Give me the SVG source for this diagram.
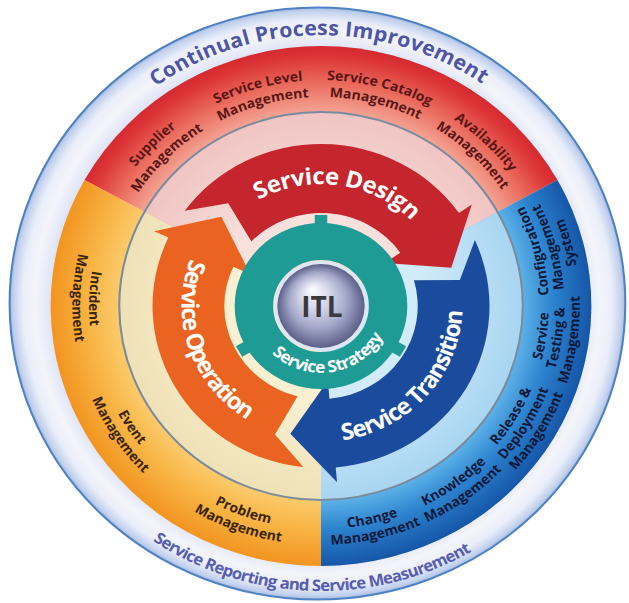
<svg xmlns="http://www.w3.org/2000/svg" width="629" height="603" viewBox="0 0 629 603">
<defs>
  <radialGradient id="gBand" gradientUnits="userSpaceOnUse" cx="-3.4" cy="-2.5" r="296.5">
    <stop offset="0.86" stop-color="#dde2f5"/>
    <stop offset="0.915" stop-color="#f4f5fb"/>
    <stop offset="0.955" stop-color="#eaeef9"/>
    <stop offset="0.985" stop-color="#c4d2ee"/>
    <stop offset="1" stop-color="#a2b9e0"/>
  </radialGradient>
  <radialGradient id="gRed" gradientUnits="userSpaceOnUse" cx="0" cy="0" r="260">
    <stop offset="0.745" stop-color="#f3a494"/>
    <stop offset="0.86" stop-color="#ea6a5c"/>
    <stop offset="0.96" stop-color="#dc3437"/>
    <stop offset="1" stop-color="#d42a30"/>
  </radialGradient>
  <radialGradient id="gOrange" gradientUnits="userSpaceOnUse" cx="0" cy="0" r="260">
    <stop offset="0.745" stop-color="#fccb6c"/>
    <stop offset="0.86" stop-color="#f8b444"/>
    <stop offset="1" stop-color="#f29420"/>
  </radialGradient>
  <radialGradient id="gBlue" gradientUnits="userSpaceOnUse" cx="0" cy="0" r="260">
    <stop offset="0.745" stop-color="#5db2e8"/>
    <stop offset="0.86" stop-color="#2c82ce"/>
    <stop offset="1" stop-color="#1556a8"/>
  </radialGradient>
  <radialGradient id="gPaleR" gradientUnits="userSpaceOnUse" cx="0" cy="0" r="194">
    <stop offset="0.5" stop-color="#f8e0dc"/>
    <stop offset="1" stop-color="#f0c4c2"/>
  </radialGradient>
  <radialGradient id="gPaleO" gradientUnits="userSpaceOnUse" cx="0" cy="0" r="194">
    <stop offset="0.5" stop-color="#f9f0d2"/>
    <stop offset="1" stop-color="#efe1b6"/>
  </radialGradient>
  <radialGradient id="gPaleB" gradientUnits="userSpaceOnUse" cx="0" cy="0" r="194">
    <stop offset="0.5" stop-color="#d2ebf9"/>
    <stop offset="1" stop-color="#a8d5f1"/>
  </radialGradient>
  <radialGradient id="gSphere" cx="0.5" cy="0.5" r="0.5" fx="0.4" fy="0.3">
    <stop offset="0" stop-color="#ffffff"/>
    <stop offset="0.3" stop-color="#d9dbec"/>
    <stop offset="0.65" stop-color="#a5a9ca"/>
    <stop offset="0.9" stop-color="#70749a"/>
    <stop offset="1" stop-color="#5c6086"/>
  </radialGradient>
  <path id="arrowShape" d="M -131.06,-95.22 A 162 162 0 0 1 132.70,-92.92 L 144.99,-101.52 L 125.28,-38.30 L 61.44,-43.02 L 76.18,-53.34 A 93 93 0 0 0 -66.90,-64.61 L -89.23,-102.64 Z"/>
  <rect id="tab" x="-6" y="-91" width="12" height="11"/>

  <path id="pTop" d="M -255.4,-90.5 A 271 271 0 0 1 253.8,-94.9"/>
  <path id="pBottom" d="M -271.1,88.1 A 285 285 0 0 0 264.2,106.8"/>

  <path id="pR1a" d="M -226,0 A 226 226 0 0 1 0,-226"/>
  <path id="pR1b" d="M -209,0 A 209 209 0 0 1 0,-209"/>
  <path id="pR2a" d="M -196.7,-111.3 A 226 226 0 0 1 111.3,-196.7"/>
  <path id="pR2b" d="M -181.9,-102.9 A 209 209 0 0 1 102.9,-181.9"/>
  <path id="pR3a" d="M -114.7,-194.7 A 226 226 0 0 1 194.7,-114.7"/>
  <path id="pR3b" d="M -106.1,-180.1 A 209 209 0 0 1 180.1,-106.1"/>
  <path id="pR4a" d="M -3.9,-226.0 A 226 226 0 0 1 226.0,-3.9"/>
  <path id="pR4b" d="M -3.6,-209.0 A 209 209 0 0 1 209.0,-3.6"/>

  <path id="pO1a" d="M -152.1,-163.1 A 223 223 0 0 0 -163.1,152.1"/>
  <path id="pO1b" d="M -163.0,-174.8 A 239 239 0 0 0 -174.8,163.0"/>
  <path id="pO2a" d="M -218.7,-43.7 A 223 223 0 0 0 -43.7,218.7"/>
  <path id="pO2b" d="M -234.4,-46.8 A 239 239 0 0 0 -46.8,234.4"/>
  <path id="pO3a" d="M -202.1,94.2 A 223 223 0 0 0 94.2,202.1"/>
  <path id="pO3b" d="M -216.6,101.0 A 239 239 0 0 0 101.0,216.6"/>

  <path id="pB1a" d="M -118.2,189.1 A 223 223 0 0 0 189.1,118.2"/>
  <path id="pB1b" d="M -126.6,202.7 A 239 239 0 0 0 202.7,126.6"/>
  <path id="pB2a" d="M -34.9,220.3 A 223 223 0 0 0 220.3,34.9"/>
  <path id="pB2b" d="M -37.4,236.1 A 239 239 0 0 0 236.1,37.4"/>
  <path id="pB3a" d="M 53.0,212.5 A 219 219 0 0 0 212.5,-53.0"/>
  <path id="pB3b" d="M 56.6,227.1 A 234 234 0 0 0 227.1,-56.6"/>
  <path id="pB3c" d="M 60.2,241.6 A 249 249 0 0 0 241.6,-60.2"/>
  <path id="pB4a" d="M 131.8,174.9 A 219 219 0 0 0 174.9,-131.8"/>
  <path id="pB4b" d="M 140.8,186.9 A 234 234 0 0 0 186.9,-140.8"/>
  <path id="pB4c" d="M 149.8,198.8 A 249 249 0 0 0 198.8,-149.8"/>
  <path id="pB5a" d="M 189.7,109.5 A 219 219 0 0 0 109.5,-189.7"/>
  <path id="pB5b" d="M 202.6,117 A 234 234 0 0 0 117,-202.6"/>
  <path id="pB5c" d="M 215.6,124.5 A 249 249 0 0 0 124.5,-215.6"/>

  <path id="pDesign" d="M -107.7,-57.3 A 122 122 0 0 1 119.3,-25.4"/>
  <path id="pOperation" d="M -83.8,-104.6 A 134 134 0 0 0 -3.0,134.0"/>
  <path id="pTransition" d="M -49.8,126.5 A 136 136 0 0 0 119.5,-64.9"/>
  <path id="pStrategy" d="M -63.3,21.8 A 67 67 0 0 0 67.0,1.2"/>
</defs>
<style>
  text { font-family: "Open Sans", "Liberation Sans", sans-serif; }
  .band { font-size: 20.5px; font-weight: 700; fill: #4e55a9; }
  .bandB { font-size: 16px; font-weight: 700; fill: #575db2; }
  .lbl { font-size: 13.5px; font-weight: 700; }
  .tr { fill: #5a1616; }
  .to { fill: #3a2506; }
  .tb { fill: #0b1a3a; }
  .big { font-size: 23px; font-weight: 700; fill: #ffffff; }
  .strat { font-size: 16.5px; font-weight: 700; fill: #ffffff; }
  .teal { fill: #1f9b95; }
</style>
<rect width="629" height="603" fill="#ffffff"/>
<g transform="translate(321,306) scale(1.04,1)">
  <g id="outer-band">
    <circle cx="-3.4" cy="-2.5" r="296" fill="url(#gBand)" stroke="#4f82c3" stroke-width="2"/>
    <text class="band"><textPath href="#pTop" startOffset="50%" text-anchor="middle" textLength="335" lengthAdjust="spacing">Continual Process Improvement</textPath></text>
    <text class="bandB"><textPath href="#pBottom" startOffset="50%" text-anchor="middle" textLength="324" lengthAdjust="spacing">Service Reporting and Service Measurement</textPath></text>
  </g>
  <g id="process-ring">
    <path id="sector-design" d="M0,0 L -227.4,-126.0 A 260 260 0 0 1 227.4,-126.0 Z" fill="url(#gRed)"/>
    <path id="sector-transition" d="M0,0 L 227.4,-126.0 A 260 260 0 0 1 0,260 Z" fill="url(#gBlue)"/>
    <path id="sector-operation" d="M0,0 L 0,260 A 260 260 0 0 1 -227.4,-126.0 Z" fill="url(#gOrange)"/>
  </g>
  <g id="inner-disk">
    <path d="M0,0 L -169.7,-94.0 A 194 194 0 0 1 169.7,-94.0 Z" fill="url(#gPaleR)"/>
    <path d="M0,0 L 169.7,-94.0 A 194 194 0 0 1 0,194 Z" fill="url(#gPaleB)"/>
    <path d="M0,0 L 0,194 A 194 194 0 0 1 -169.7,-94.0 Z" fill="url(#gPaleO)"/>
    <circle r="194" fill="none" stroke="#7b8b9e" stroke-width="2"/>
  </g>
  <g id="design-processes" class="lbl tr">
    <text><textPath href="#pR1a" startOffset="50%" text-anchor="middle">Supplier</textPath></text>
    <text><textPath href="#pR1b" startOffset="50%" text-anchor="middle">Management</textPath></text>
    <text><textPath href="#pR2a" startOffset="50%" text-anchor="middle">Service Level</textPath></text>
    <text><textPath href="#pR2b" startOffset="50%" text-anchor="middle">Management</textPath></text>
    <text><textPath href="#pR3a" startOffset="50%" text-anchor="middle">Service Catalog</textPath></text>
    <text><textPath href="#pR3b" startOffset="50%" text-anchor="middle">Management</textPath></text>
    <text><textPath href="#pR4a" startOffset="50%" text-anchor="middle">Availability</textPath></text>
    <text><textPath href="#pR4b" startOffset="50%" text-anchor="middle">Management</textPath></text>
  </g>
  <g id="operation-processes" class="lbl to">
    <text><textPath href="#pO1a" startOffset="50%" text-anchor="middle">Incident</textPath></text>
    <text><textPath href="#pO1b" startOffset="50%" text-anchor="middle">Management</textPath></text>
    <text><textPath href="#pO2a" startOffset="50%" text-anchor="middle">Event</textPath></text>
    <text><textPath href="#pO2b" startOffset="50%" text-anchor="middle">Management</textPath></text>
    <text><textPath href="#pO3a" startOffset="50%" text-anchor="middle">Problem</textPath></text>
    <text><textPath href="#pO3b" startOffset="50%" text-anchor="middle">Management</textPath></text>
  </g>
  <g id="transition-processes" class="lbl tb">
    <text><textPath href="#pB1a" startOffset="50%" text-anchor="middle">Change</textPath></text>
    <text><textPath href="#pB1b" startOffset="50%" text-anchor="middle">Management</textPath></text>
    <text><textPath href="#pB2a" startOffset="50%" text-anchor="middle">Knowledge</textPath></text>
    <text><textPath href="#pB2b" startOffset="50%" text-anchor="middle">Management</textPath></text>
    <text><textPath href="#pB3a" startOffset="50%" text-anchor="middle">Release &amp;</textPath></text>
    <text><textPath href="#pB3b" startOffset="50%" text-anchor="middle">Deployment</textPath></text>
    <text><textPath href="#pB3c" startOffset="50%" text-anchor="middle">Management</textPath></text>
    <text><textPath href="#pB4a" startOffset="50%" text-anchor="middle">Service</textPath></text>
    <text><textPath href="#pB4b" startOffset="50%" text-anchor="middle">Testing &amp;</textPath></text>
    <text><textPath href="#pB4c" startOffset="50%" text-anchor="middle">Management</textPath></text>
    <text><textPath href="#pB5a" startOffset="50%" text-anchor="middle">Configuration</textPath></text>
    <text><textPath href="#pB5b" startOffset="50%" text-anchor="middle">Management</textPath></text>
    <text><textPath href="#pB5c" startOffset="50%" text-anchor="middle">System</textPath></text>
  </g>
  <g id="arrows">
    <g id="service-design">
      <use href="#arrowShape" fill="#c5262d"/>
      <text class="big"><textPath href="#pDesign" startOffset="50%" text-anchor="middle" textLength="160" lengthAdjust="spacing">Service Design</textPath></text>
    </g>
    <g id="service-transition">
      <use href="#arrowShape" fill="#1b4b9d" transform="rotate(120)"/>
      <text class="big"><textPath href="#pTransition" startOffset="50%" text-anchor="middle" textLength="188" lengthAdjust="spacing">Service Transition</textPath></text>
    </g>
    <g id="service-operation">
      <use href="#arrowShape" fill="#ea6320" transform="rotate(240)"/>
      <text class="big"><textPath href="#pOperation" startOffset="50%" text-anchor="middle" textLength="184" lengthAdjust="spacing">Service Operation</textPath></text>
    </g>
  </g>
  <g id="service-strategy">
    <circle r="64.5" fill="none" stroke="#1f9b95" stroke-width="37"/>
    <use href="#tab" class="teal"/>
    <use href="#tab" class="teal" transform="rotate(120)"/>
    <use href="#tab" class="teal" transform="rotate(240)"/>
    <text class="strat"><textPath href="#pStrategy" startOffset="50%" text-anchor="middle" textLength="126" lengthAdjust="spacing">Service Strategy</textPath></text>
  </g>
  <g id="itl-core">
    <circle r="45" fill="#dde7f3"/>
    <circle r="42" fill="url(#gSphere)"/>
  </g>
</g>
<text x="322" y="317" font-size="28" font-weight="700" fill="#3a3a3e" text-anchor="middle">ITL</text>
</svg>
